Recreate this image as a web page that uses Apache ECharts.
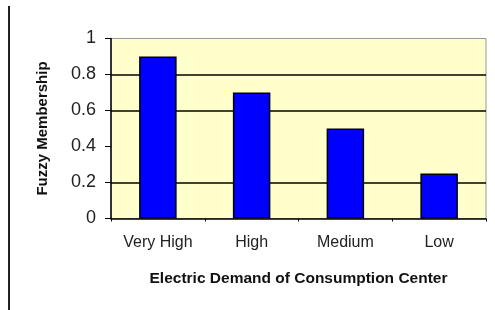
<!DOCTYPE html>
<html>
<head>
<meta charset="utf-8">
<script src="https://cdn.jsdelivr.net/npm/echarts@6/dist/echarts.min.js"></script>
<style>
  html, body { margin: 0; padding: 0; background: #fff; }
  #main { width: 495px; height: 310px; }
</style>
</head>
<body>
<div id="main"></div>
<script>
// 数据
var categories = ['Very High', 'High', 'Medium', 'Low'];
var membership = [0.9, 0.7, 0.5, 0.25];
var yTicks = [0, 0.2, 0.4, 0.6, 0.8, 1];
var gridLines = [0.2, 0.6, 0.8]; // 原图里 0.4 那条网格线没有画

var chart = echarts.init(document.getElementById('main'), null, { renderer: 'canvas' });

var option = {
  backgroundColor: '#ffffff',
  animation: false,
  graphic: [
    // 左边的竖线
    { type: 'line', shape: { x1: 9, y1: 6, x2: 9, y2: 310 }, style: { stroke: '#222', lineWidth: 2 } }
  ],
  grid: {
    left: 111, right: 9, top: 38.5, bottom: 91.5,
    show: true,
    backgroundColor: '#ffffcc',
    borderColor: '#999',
    borderWidth: 1
  },
  xAxis: {
    type: 'category',
    data: categories,
    name: 'Electric Demand of Consumption Center',
    nameLocation: 'middle',
    nameGap: 52,
    nameTextStyle: { fontFamily: 'Liberation Sans', fontWeight: 'bold', fontSize: 15.5, color: '#111' },
    axisLine: { lineStyle: { color: '#000', width: 1.5 } },
    axisTick: { show: true, length: 3, lineStyle: { color: '#000' } },
    axisLabel: { fontFamily: 'Liberation Sans', fontSize: 16, color: '#222', margin: 16 },
    splitLine: { show: false }
  },
  yAxis: {
    type: 'value',
    min: yTicks[0],
    max: yTicks[yTicks.length - 1],
    interval: 0.2,
    name: 'Fuzzy Membership',
    nameLocation: 'middle',
    nameGap: 61,
    nameRotate: 90,
    nameTextStyle: { fontFamily: 'Liberation Sans', fontWeight: 'bold', fontSize: 15, color: '#111' },
    axisLine: { show: true, lineStyle: { color: '#000', width: 1.5 } },
    axisTick: { show: true, length: 6, lineStyle: { color: '#000' } },
    axisLabel: { fontFamily: 'Liberation Sans', fontSize: 18, color: '#222', margin: 15 },
    splitLine: { show: false }
  },
  series: [{
    type: 'bar',
    data: membership,
    barWidth: '40%',
    z: 3,
    itemStyle: { color: '#0000ff', borderColor: '#000', borderWidth: 1.5 },
    markLine: {
      z: 1,
      silent: true,
      symbol: ['none', 'none'],
      label: { show: false },
      lineStyle: { color: '#000', width: 1.5, type: 'solid' },
      data: gridLines.map(function (v) { return { yAxis: v }; })
    }
  }]
};

chart.setOption(option);
</script>
</body>
</html>
